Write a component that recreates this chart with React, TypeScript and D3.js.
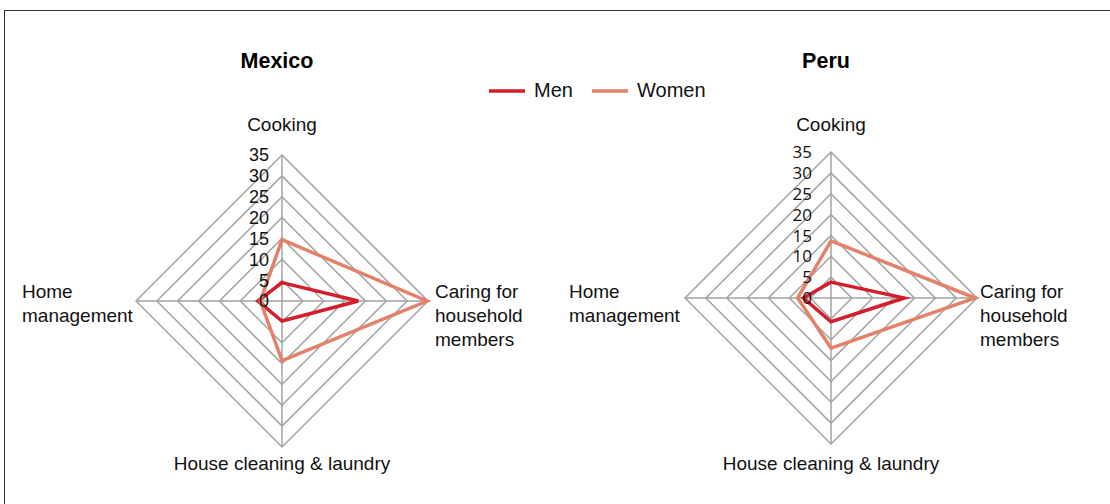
import { scaleLinear, lineRadial, curveLinearClosed, range } from "d3";

// categories go clockwise from the top
const categories = ["Cooking", "Caring for household members", "House cleaning & laundry", "Home management"];
const seriesNames = ["Men", "Women"];
const mexicoMen = [4.4, 18.3, 4.8, 5.8];
const mexicoWomen = [14.7, 34.8, 14.3, 5.2];
const peruMen = [3.8, 17.6, 5.7, 6.6];
const peruWomen = [13.7, 34.6, 12.0, 8.0];
const tickValues = [0, 5, 10, 15, 20, 25, 30, 35];

const COLORS = ["#d21f2d", "#e3826a"];
const GRID = "#a3a3a3";
const LABEL_FONT = "'Liberation Sans', Arial, sans-serif";
const R = 146;
// label baselines are shared by both panels
const TOP_LABEL_Y = 131;
const SIDE_LABEL_Y = 298;
const BOTTOM_LABEL_Y = 470;

type RadarProps = {
  cx: number;
  cy: number;
  title: string;
  men: number[];
  women: number[];
  tickFont: string;
  tickSize: number;
  tickOffset: number;
  caringX: number;
  homeX: number;
};

const Radar = (props: RadarProps) => {
  const { cx, cy, title, men, women, tickFont, tickSize, tickOffset, caringX, homeX } = props;
  const r = scaleLinear().domain([0, 35]).range([0, R]);
  const angle = (i: number) => (i * 2 * Math.PI) / categories.length;

  const ring = (v: number) =>
    lineRadial<number>()
      .angle((_, i) => angle(i))
      .radius(() => r(v))
      .curve(curveLinearClosed)(categories.map(() => v)) as string;

  const shape = (vals: number[]) =>
    lineRadial<number>()
      .angle((_, i) => angle(i))
      .radius((d) => r(d))
      .curve(curveLinearClosed)(vals) as string;

  return (
    <g>
      <text x={cx - 5} y={68} textAnchor="middle" fontFamily={LABEL_FONT} fontWeight="bold" fontSize={21.5}>
        {title}
      </text>
      <g transform={`translate(${cx},${cy})`}>
        {tickValues.slice(1).map((t) => (
          <path key={t} d={ring(t)} fill="none" stroke={GRID} strokeWidth={1.5} />
        ))}
        {range(categories.length).map((i) => (
          <line
            key={i}
            x1={0}
            y1={0}
            x2={r(35) * Math.sin(angle(i))}
            y2={-r(35) * Math.cos(angle(i))}
            stroke={GRID}
            strokeWidth={1.5}
          />
        ))}
        {[men, women].map((vals, k) => (
          <path key={k} d={shape(vals)} fill="none" stroke={COLORS[k]} strokeWidth={3.5} strokeLinejoin="miter" />
        ))}
        {tickValues.map((t) => (
          <text
            key={t}
            x={-tickOffset}
            y={-r(t)}
            dy="0.36em"
            textAnchor="end"
            fontFamily={tickFont}
            fontSize={tickSize}
            fill="#111"
          >
            {t}
          </text>
        ))}
      </g>
      <g fontFamily={LABEL_FONT} fontSize={19} fill="#111">
        <text x={cx} y={TOP_LABEL_Y} textAnchor="middle">
          {categories[0]}
        </text>
        <text x={caringX} y={SIDE_LABEL_Y} textAnchor="start">
          <tspan x={caringX}>Caring for</tspan>
          <tspan x={caringX} dy={24}>household</tspan>
          <tspan x={caringX} dy={24}>members</tspan>
        </text>
        <text x={cx} y={BOTTOM_LABEL_Y} textAnchor="middle">
          {categories[2]}
        </text>
        <text x={homeX} y={SIDE_LABEL_Y} textAnchor="start">
          <tspan x={homeX}>Home</tspan>
          <tspan x={homeX} dy={24}>management</tspan>
        </text>
      </g>
    </g>
  );
};

const App = () => {
  return (
    <svg width={1110} height={504} style={{ position: "absolute", left: 0, top: 0, background: "#fff" }}>
      <rect x={4.5} y={10.5} width={1120} height={520} fill="none" stroke="#333" strokeWidth={1} />
      <Radar
        cx={282}
        cy={301}
        title="Mexico"
        men={mexicoMen}
        women={mexicoWomen}
        tickFont={LABEL_FONT}
        tickSize={18}
        tickOffset={13}
        caringX={435}
        homeX={22}
      />
      <Radar
        cx={831}
        cy={298}
        title="Peru"
        men={peruMen}
        women={peruWomen}
        tickFont="'Open Sans', sans-serif"
        tickSize={17}
        tickOffset={19}
        caringX={980}
        homeX={569}
      />
      {/* legend */}
      <g fontFamily={LABEL_FONT} fontSize={20} fill="#111">
        {seriesNames.map((name, i) => {
          const x0 = i === 0 ? 489 : 592;
          return (
            <g key={name}>
              <line x1={x0} x2={x0 + 36} y1={91} y2={91} stroke={COLORS[i]} strokeWidth={3.5} />
              <text x={x0 + 45} y={97}>
                {name}
              </text>
            </g>
          );
        })}
      </g>
    </svg>
  );
};

export default App;
